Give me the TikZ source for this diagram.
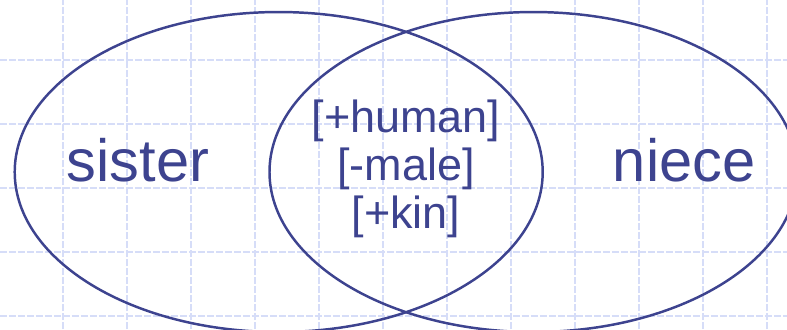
\documentclass[tikz,border=0pt]{standalone}
\usepackage{xcolor}
\usepackage{tikz}
\usepackage{fontspec}
\setmainfont{Liberation Sans}
\usetikzlibrary{positioning}
\definecolor{ink}{HTML}{3D438F}
\definecolor{gridblue}{HTML}{D6DDF8}

\begin{document}
\begin{tikzpicture}[
    setline/.style={ink, line width=1.1pt},
    gridline/.style={gridblue, line width=0.5pt, dash pattern=on 3pt off 1pt},
    big/.style={ink, anchor=base, font=\fontsize{26.5}{30}\selectfont},
    feat/.style={ink, anchor=base, font=\fontsize{20}{24}\selectfont}]
  \useasboundingbox (0,0) rectangle (12.297,5.141);

  % Raster
  \foreach \x in {0,...,11}
    \draw[gridline] (0.984+\x,0) -- (0.984+\x,5.141);
  \foreach \y in {0,...,4}
    \draw[gridline] (0,0.203+\y) -- (12.297,0.203+\y);

  % Mengen
  \draw[setline] (4.355,2.453) ellipse (4.125 and 2.5);
  \draw[setline] (8.336,2.453) ellipse (4.125 and 2.5);

  % Beschriftung
  \node[big] (sister) at (2.156,2.3125) {sister};
  \node[big] (niece) at (10.69,2.3125) {niece};
  \node[feat] (human) at (6.344,3.078) {[+human]};
  \node[feat] (male) at (6.344,2.328) {[-male]};
  \node[feat] (kin) at (6.344,1.578) {[+kin]};
\end{tikzpicture}
\end{document}
